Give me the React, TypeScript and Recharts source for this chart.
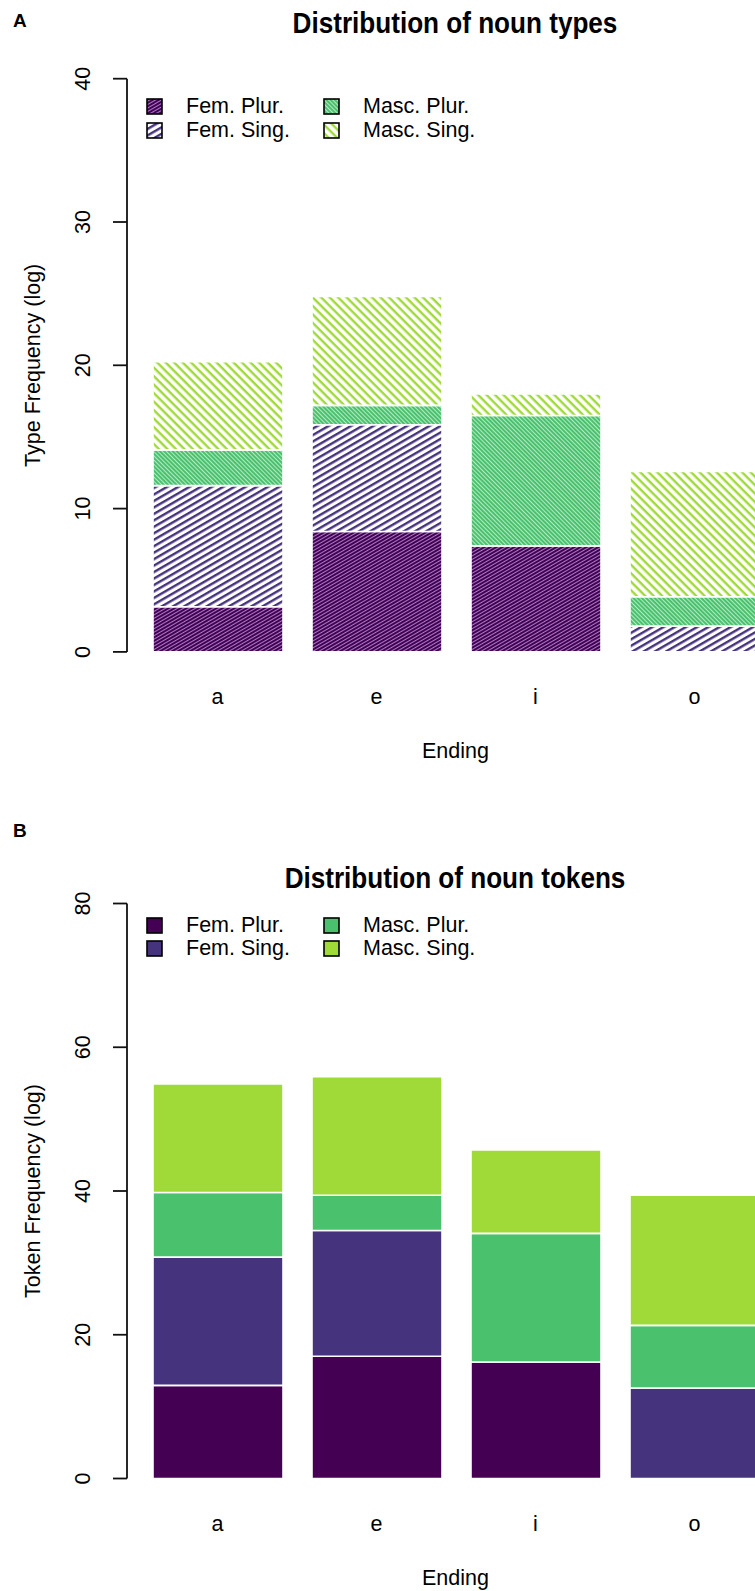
import React from 'react';
import { BarChart, Bar, XAxis, YAxis, Legend } from 'recharts';

const endings = ['a', 'e', 'i', 'o'];
const groupNames = ['Fem. Plur.', 'Fem. Sing.', 'Masc. Plur.', 'Masc. Sing.'];
const groupKeys = ['femPlur', 'femSing', 'mascPlur', 'mascSing'];
const groupColors = ['#440154', '#46337E', '#4AC16D', '#A0DA39'];
const hatchFills = ['url(#hatchFP)', 'url(#hatchFS)', 'url(#hatchMP)', 'url(#hatchMS)'];

// panel A - type frequency (log)
const typeFemPlur = [3.15, 8.4, 7.4, 0];
const typeFemSing = [8.45, 7.45, 0, 1.8];
const typeMascPlur = [2.5, 1.35, 9.1, 2.05];
const typeMascSing = [6.15, 7.6, 1.5, 8.75];
const typeTicks = [0, 10, 20, 30, 40];

// panel B - token frequency (log)
const tokenFemPlur = [12.95, 17.0, 16.2, 0];
const tokenFemSing = [17.85, 17.5, 0, 12.6];
const tokenMascPlur = [9.0, 4.9, 17.9, 8.7];
const tokenMascSing = [15.1, 16.5, 11.6, 18.1];
const tokenTicks = [0, 20, 40, 60, 80];

const font = "'Liberation Sans', Arial, sans-serif";

function buildRows(fp: number[], fs: number[], mp: number[], ms: number[]) {
  return endings.map((e, i) => ({
    ending: e,
    femPlur: fp[i],
    femSing: fs[i],
    mascPlur: mp[i],
    mascSing: ms[i],
  }));
}

const typeRows = buildRows(typeFemPlur, typeFemSing, typeMascPlur, typeMascSing);
const tokenRows = buildRows(tokenFemPlur, tokenFemSing, tokenMascPlur, tokenMascSing);

function Patterns() {
  return (
    <svg width="0" height="0" style={{ position: 'absolute' }}>
      <defs>
        <pattern id="hatchFP" patternUnits="userSpaceOnUse" width="8" height="3" patternTransform="rotate(-30)">
          <rect width="8" height="3" fill="#440154" />
          <rect width="8" height="1" fill="#a67cc2" />
        </pattern>
        <pattern id="hatchFS" patternUnits="userSpaceOnUse" width="8" height="5.6" patternTransform="rotate(-30)">
          <rect width="8" height="5.6" fill="#ffffff" />
          <rect width="8" height="2.4" fill="#46337E" />
        </pattern>
        <pattern id="hatchMP" patternUnits="userSpaceOnUse" width="8" height="3" patternTransform="rotate(45)">
          <rect width="8" height="3" fill="#4AC16D" />
          <rect width="8" height="1" fill="#b3eac4" />
        </pattern>
        <pattern id="hatchMS" patternUnits="userSpaceOnUse" width="8" height="6" patternTransform="rotate(45)">
          <rect width="8" height="6" fill="#ffffff" />
          <rect width="8" height="2.4" fill="#A0DA39" />
        </pattern>
      </defs>
    </svg>
  );
}

function LegendBox({ fills }: { fills: string[] }) {
  return (
    <div style={{ position: 'relative', width: 360, height: 48, fontFamily: font, fontSize: 21.5, color: '#000' }}>
      {groupNames.map((name, i) => {
        const col = Math.floor(i / 2);
        const row = i % 2;
        return (
          <div
            key={name}
            style={{
              position: 'absolute',
              left: col * 177,
              top: row * 23.5,
              height: 23.5,
              display: 'flex',
              alignItems: 'center',
              whiteSpace: 'nowrap',
            }}
          >
            <svg width="17" height="17" style={{ display: 'block' }}>
              <rect x="1" y="1" width="15" height="15" fill={fills[i]} stroke="#000" strokeWidth="1.6" />
            </svg>
            <span style={{ marginLeft: 23 }}>{name}</span>
          </div>
        );
      })}
    </div>
  );
}

const YTick = (props: any) => {
  const { x, y, payload } = props;
  return (
    <text
      transform={`translate(${x - 28}, ${y}) rotate(-90)`}
      textAnchor="middle"
      dominantBaseline="central"
      fontFamily={font}
      fontSize={21.5}
      fill="#000"
    >
      {payload.value}
    </text>
  );
};

const XTick = (props: any) => {
  const { x, y, payload } = props;
  return (
    <text x={x} y={y + 44} textAnchor="middle" fontFamily={font} fontSize={21.5} fill="#000">
      {payload.value}
    </text>
  );
};

interface PanelProps {
  rows: any[];
  fills: string[];
  ticks: number[];
  yLabel: string;
  top: number;
  height: number;
  marginTop: number;
  xAxisHeight: number;
  endingOffset: number;
  legendTop: number;
  title: string;
  titleTop: number;
  letter: string;
  letterTop: number;
}

function Panel(p: PanelProps) {
  return (
    <div style={{ position: 'absolute', left: 0, top: p.top, width: 755, height: p.height, overflow: 'hidden' }}>
      <div
        style={{
          position: 'absolute',
          left: 13,
          top: p.letterTop,
          fontFamily: font,
          fontWeight: 'bold',
          fontSize: 19,
          lineHeight: '19px',
        }}
      >
        {p.letter}
      </div>
      <div
        style={{
          position: 'absolute',
          left: 455,
          top: p.titleTop,
          transform: 'translateX(-50%) scaleX(0.9)',
          fontFamily: font,
          fontWeight: 'bold',
          fontSize: 29,
          lineHeight: '29px',
          whiteSpace: 'nowrap',
        }}
      >
        {p.title}
      </div>
      <BarChart
        width={776}
        height={p.height}
        data={p.rows}
        barSize={130}
        margin={{ top: p.marginTop, right: 2, bottom: 0, left: 0 }}
      >
        <XAxis
          dataKey="ending"
          padding={{ left: 11, right: 0 }}
          axisLine={false}
          tickLine={false}
          height={p.xAxisHeight}
          tick={<XTick />}
          label={{
            value: 'Ending',
            position: 'insideBottom',
            offset: p.endingOffset,
            dx: 5,
            style: { fontFamily: font, fontSize: 21.5, fill: '#000' },
          }}
        />
        <YAxis
          type="number"
          domain={[p.ticks[0], p.ticks[p.ticks.length - 1]]}
          ticks={p.ticks}
          width={127}
          tickSize={14}
          axisLine={{ stroke: '#111', strokeWidth: 1.8 }}
          tickLine={{ stroke: '#111', strokeWidth: 1.8 }}
          tick={<YTick />}
          label={{
            value: p.yLabel,
            angle: -90,
            position: 'insideLeft',
            offset: 32,
            style: { fontFamily: font, fontSize: 21.5, fill: '#000', textAnchor: 'middle' },
          }}
        />
        <Legend
          layout="horizontal"
          verticalAlign="middle"
          align="center"
          wrapperStyle={{ left: 146, top: p.legendTop, width: 360 }}
          content={() => <LegendBox fills={p.fills} />}
        />
        {groupKeys.map((k, i) => (
          <Bar
            key={k}
            dataKey={k}
            name={groupNames[i]}
            stackId="s"
            fill={p.fills[i]}
            stroke="#ffffff"
            strokeWidth={1.6}
            isAnimationActive={false}
          />
        ))}
      </BarChart>
    </div>
  );
}

export default function App() {
  return (
    <div
      style={{
        position: 'absolute',
        left: 0,
        top: 0,
        width: 755,
        height: 1591,
        background: '#fff',
        overflow: 'hidden',
      }}
    >
      <Patterns />
      <Panel
        rows={typeRows}
        fills={hatchFills}
        ticks={typeTicks}
        yLabel="Type Frequency (log)"
        top={0}
        height={790}
        marginTop={78.7}
        xAxisHeight={138.1}
        endingOffset={32}
        legendTop={95}
        title="Distribution of noun types"
        titleTop={8.5}
        letter="A"
        letterTop={10.5}
      />
      <Panel
        rows={tokenRows}
        fills={groupColors}
        ticks={tokenTicks}
        yLabel="Token Frequency (log)"
        top={800}
        height={791}
        marginTop={103.5}
        xAxisHeight={112.5}
        endingOffset={6.5}
        legendTop={113.6}
        title="Distribution of noun tokens"
        titleTop={63.5}
        letter="B"
        letterTop={20.5}
      />
    </div>
  );
}
